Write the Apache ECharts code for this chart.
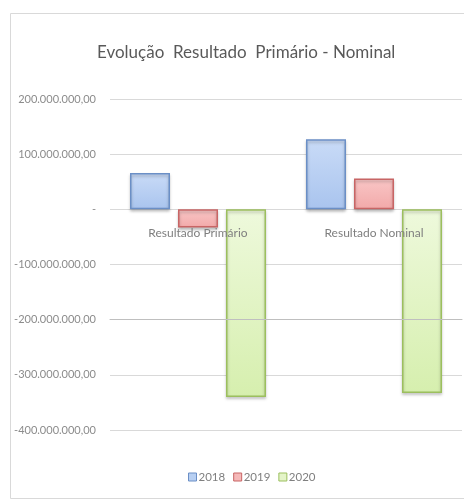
<!DOCTYPE html>
<html><head><meta charset="utf-8">
<script src="https://cdn.jsdelivr.net/npm/echarts@6/dist/echarts.min.js"></script>
<style>html,body{margin:0;padding:0;background:#fff}#c{width:464px;height:503px}</style>
</head><body><div id="c"></div>
<script>
const categories = ['Resultado Primário', 'Resultado Nominal'];
const seriesNames = ['2018', '2019', '2020'];
const values2018 = [66000000, 127000000];
const values2019 = [-33000000, 56000000];
const values2020 = [-340000000, -333000000];
const yTicks = [200000000, 100000000, 0, -100000000, -200000000, -300000000, -400000000];

const chart = echarts.init(document.getElementById('c'));
const font = 'Lato, "Open Sans", sans-serif';
function fmt(v){
  if (v === 0) return '-';
  const s = Math.abs(v).toFixed(2).split('.');
  const intPart = s[0].replace(/\B(?=(\d{3})+(?!\d))/g, '.');
  return (v < 0 ? '-' : '') + intPart + ',' + s[1];
}
function grad(a, b){
  return new echarts.graphic.LinearGradient(0, 0, 0, 1, [{offset:0,color:a},{offset:1,color:b}]);
}
const styles = [
  {fill: grad('#c9dbf7','#a9c4ee'), border:'#6b8fc6', legend:'#b7cff2'},
  {fill: grad('#f9c6c6','#f2a9a9'), border:'#c86565', legend:'#f5b8b8'},
  {fill: grad('#eef9dc','#d6efae'), border:'#9cbf5e', legend:'#e4f4c8'}
];
const data = [values2018, values2019, values2020];
const yMin = Math.min(...yTicks), yMax = Math.max(...yTicks);
const gridTop = 99, gridBottom = 73, H = 503;
const plotH = H - gridTop - gridBottom;
const zeroOffset = -plotH * (0 - yMin) / (yMax - yMin);
chart.setOption({
  animation: false,
  graphic: [{type:'rect', shape:{x:10.5,y:13.5,width:470,height:485}, style:{fill:'none', stroke:'#d9d9d9', lineWidth:1}, silent:true}],
  title: {text:'Evolução  Resultado  Primário - Nominal', left:92, top:39,
    textStyle:{fontFamily:font, fontSize:17, fontWeight:'normal', color:'#595959'}},
  grid: {left:110, right:2, top:gridTop, bottom:gridBottom},
  legend: {data: seriesNames.map((n,i)=>({name:n, itemStyle:{color:styles[i].legend, borderColor:styles[i].border, borderWidth:1}})),
    bottom:15, left:183, icon:'rect', itemWidth:8, itemHeight:8, itemGap:8,
    textStyle:{fontFamily:font, fontSize:11.5, color:'#7f7f7f', padding:[0,0,0,-3]}},
  xAxis: {type:'category', data:categories, axisTick:{show:false}, offset: zeroOffset, z:5,
    axisLine:{lineStyle:{color:'#bfbfbf'}},
    axisLabel:{fontFamily:font, fontSize:12, color:'#7f7f7f', margin:18}},
  yAxis: {type:'value', min:yMin, max:yMax, interval:100000000,
    axisLine:{show:false}, axisTick:{show:false},
    splitLine:{lineStyle:{color:'#d9d9d9'}},
    axisLabel:{fontFamily:font, fontSize:11, color:'#8c8c8c', margin:14,
      formatter: v => yTicks.includes(v) ? fmt(v) : ''}},
  series: seriesNames.map((n,i)=>({
    name:n, type:'bar', data:data[i], barWidth:40, barGap:'20%', z:1,
    itemStyle:{color:styles[i].fill, borderColor:styles[i].border, borderWidth:1.5,
      shadowColor:'rgba(0,0,0,0.25)', shadowBlur:3, shadowOffsetY:2}
  }))
});
</script></body></html>
